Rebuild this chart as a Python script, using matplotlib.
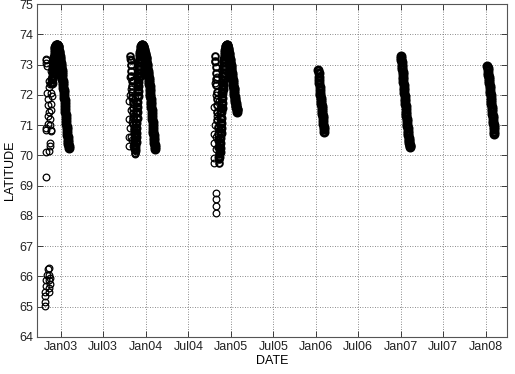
import pandas as pd
import matplotlib
matplotlib.use("Agg")
import matplotlib.pyplot as plt
import matplotlib.dates as mdates

plt.rcParams["font.family"] = ["Liberation Sans", "DejaVu Sans"]

# --------------------------
# Data: daily fixes along the dense tracks (start date + one latitude per day)
# --------------------------
arc_2003_start = "2002-11-24"
arc_2003_lat = [72.40, 72.52, 72.63, 72.74, 72.84, 72.93, 73.02,
                73.10, 73.18, 73.26, 73.34, 73.42, 73.50, 73.54, 73.57, 73.60, 73.62,
                73.63, 73.64, 73.64, 73.65, 73.65, 73.64, 73.62, 73.60, 73.57, 73.54,
                73.50, 73.46, 73.42, 73.38, 73.33, 73.28, 73.23, 73.18, 73.12, 73.06, 73.00,
                72.94, 72.88, 72.82, 72.75, 72.68, 72.61, 72.54, 72.47, 72.40, 72.32,
                72.24, 72.16, 72.08, 72.00, 71.91, 71.82, 71.73, 71.64, 71.55, 71.45,
                71.35, 71.25, 71.15, 71.05, 70.95, 70.86, 70.77, 70.68, 70.60, 70.52, 70.44,
                70.37, 70.30, 70.25]

col_2003_start = "2003-10-26"
col_2003_lat = [73.30, 73.15, 72.98, 72.80, 72.62, 72.45, 72.28, 72.10, 71.92, 71.75,
                71.58, 71.40, 71.22, 71.05, 70.88, 70.70, 70.52, 70.35, 70.20, 70.08]

arc_2004_start = "2003-11-15"
arc_2004_lat = [70.20, 70.32, 70.45, 70.60, 70.75, 70.92, 71.08, 71.25, 71.42, 71.60,
                71.78, 71.95, 72.12, 72.28, 72.44, 72.58,
                72.72, 72.85, 72.97, 73.08, 73.18, 73.27, 73.35, 73.42, 73.48, 73.53,
                73.58, 73.62, 73.65,
                73.65, 73.64, 73.63, 73.62, 73.60, 73.58, 73.56,
                73.54, 73.51, 73.48, 73.45, 73.42, 73.39, 73.36, 73.33, 73.30, 73.26, 73.22,
                73.18, 73.13, 73.08, 73.03, 72.98, 72.92, 72.86, 72.80, 72.74, 72.68,
                72.62, 72.56, 72.49, 72.42, 72.35, 72.28, 72.20, 72.12, 72.04, 71.96,
                71.87, 71.78, 71.69, 71.60, 71.50, 71.40, 71.30, 71.20, 71.10, 71.00, 70.91,
                70.82, 70.74, 70.66, 70.58, 70.50, 70.42, 70.34, 70.27, 70.20]

col_2004_start = "2004-10-24"
col_2004_lat = [73.30, 73.12, 72.92, 72.72, 72.52, 72.32, 72.10, 71.88, 71.65, 71.42,
                71.18, 70.95, 70.72, 70.50, 70.28, 70.06, 69.88, 69.76]

arc_2005_start = "2004-11-11"
arc_2005_lat = [69.95, 70.10, 70.25, 70.42, 70.58, 70.75, 70.92, 71.08, 71.25, 71.42,
                71.58, 71.74, 71.90, 72.05, 72.20, 72.34, 72.48, 72.61, 72.74, 72.86,
                72.97, 73.08, 73.18, 73.27, 73.35, 73.42, 73.48, 73.53, 73.57, 73.60,
                73.62, 73.64, 73.65,
                73.64, 73.62, 73.59, 73.56, 73.52, 73.48, 73.44,
                73.39, 73.34, 73.29, 73.24, 73.19, 73.14, 73.09, 73.04, 72.99, 72.94, 72.89,
                72.84, 72.78, 72.72, 72.66, 72.60, 72.54, 72.48, 72.42, 72.36, 72.30,
                72.24, 72.18, 72.12, 72.06, 72.00, 71.94, 71.88, 71.83, 71.78, 71.73,
                71.68, 71.63, 71.59, 71.55, 71.52, 71.49, 71.45]

track_2006_start = "2006-01-11"
track_2006_lat = [72.82, 72.71, 72.60, 72.49, 72.38, 72.27, 72.16, 72.05, 71.98, 71.91,
                  71.84, 71.77, 71.70, 71.64, 71.57, 71.51, 71.44, 71.38, 71.31, 71.22,
                  71.13, 71.04, 70.95, 70.86, 70.76]

track_2007_start = "2006-12-31"
track_2007_lat = [73.28, 73.22, 73.15, 73.08, 73.00, 72.92, 72.84, 72.76, 72.68, 72.60,
                  72.51, 72.42, 72.33, 72.24, 72.15, 72.06, 71.97, 71.88, 71.80, 71.71,
                  71.62, 71.53, 71.45, 71.37, 71.29, 71.21, 71.13, 71.05, 70.97, 70.89,
                  70.81, 70.73, 70.66, 70.59, 70.52, 70.46, 70.40, 70.35, 70.31, 70.27]

track_2008_start = "2008-01-07"
track_2008_lat = [72.95, 72.88, 72.81, 72.74, 72.66, 72.59, 72.52, 72.45, 72.38, 72.30,
                  72.22, 72.14, 72.06, 71.98, 71.90, 71.83, 71.76, 71.69, 71.61, 71.53,
                  71.46, 71.38, 71.30, 71.23, 71.15, 71.08, 71.00, 70.93, 70.86, 70.78,
                  70.70]

# Scattered fixes (date, latitude)
scatter_dates = ["2002-10-28", "2002-10-29", "2002-11-01", "2002-10-30", "2002-11-10",
                 "2002-11-12", "2002-11-20", "2002-11-22", "2002-11-06", "2002-11-08",
                 "2002-11-12", "2002-11-06", "2002-11-14", "2002-11-18", "2002-11-20",
                 "2002-10-28", "2002-10-27", "2002-11-14", "2002-11-16", "2002-11-10",
                 "2002-10-29", "2002-10-28", "2002-11-04", "2002-11-16", "2002-11-18",
                 "2002-11-02", "2002-11-19", "2002-11-21", "2002-11-15", "2002-11-17",
                 "2002-10-24", "2002-10-25", "2002-10-26", "2002-10-26", "2002-10-27",
                 "2002-10-29", "2002-10-31", "2002-11-04", "2002-11-12", "2002-11-12",
                 "2002-11-10", "2002-11-14", "2002-11-12", "2002-11-10", "2002-11-13",
                 "2003-10-20", "2003-10-22", "2003-10-19", "2003-10-24", "2003-10-27",
                 "2003-10-23", "2003-10-25", "2003-10-28", "2003-11-01", "2003-11-03",
                 "2003-11-06", "2003-11-05", "2003-11-09", "2003-11-11", "2003-11-13",
                 "2003-11-16", "2003-11-18", "2003-10-21", "2003-10-30", "2003-10-26",
                 "2003-11-20", "2003-11-08", "2003-10-29", "2003-11-02",
                 "2004-10-20", "2004-10-22", "2004-10-19", "2004-10-21", "2004-10-18",
                 "2004-10-20", "2004-10-26", "2004-10-29", "2004-11-02", "2004-11-05",
                 "2004-11-08", "2004-11-12", "2004-11-15", "2004-11-17", "2004-10-24",
                 "2004-10-27", "2004-11-03", "2004-10-23", "2004-11-10", "2004-11-19",
                 "2004-10-28", "2004-10-28", "2004-10-28", "2004-10-28",
                 "2005-01-27"]
scatter_lat = [73.20, 73.05, 72.95, 73.15, 72.45,
               72.25, 72.05, 71.95, 71.85, 71.65,
               71.45, 71.30, 71.20, 70.80, 70.85,
               70.90, 70.85, 70.40, 70.32, 70.15,
               70.12, 69.28, 71.05, 72.35, 71.70,
               72.05, 71.50, 72.60, 71.00, 72.80,
               65.03, 65.17, 65.34, 65.50, 65.69,
               65.89, 66.06, 66.24, 66.28, 66.06,
               65.89, 65.76, 65.62, 65.50, 65.95,
               71.80, 71.20, 70.60, 70.90, 71.50,
               72.00, 72.60, 72.20, 71.10, 70.50,
               71.70, 70.30, 71.30, 70.80, 71.90,
               70.05, 70.15, 70.30, 73.00, 73.20,
               71.40, 72.50, 70.60, 71.90,
               71.60, 71.00, 70.70, 70.40, 69.90,
               69.75, 70.20, 70.60, 71.30, 70.90,
               71.80, 71.40, 70.80, 71.10, 72.40,
               72.00, 72.60, 73.10, 70.40, 71.60,
               68.77, 68.55, 68.33, 68.09,
               71.42]

dense_tracks = [(arc_2003_start, arc_2003_lat), (arc_2004_start, arc_2004_lat),
                (arc_2005_start, arc_2005_lat), (track_2006_start, track_2006_lat),
                (track_2007_start, track_2007_lat), (track_2008_start, track_2008_lat)]
loose_tracks = [(col_2003_start, col_2003_lat), (col_2004_start, col_2004_lat)]

# --------------------------
# Plot
# --------------------------
fig = plt.figure(figsize=(5.15, 3.74), dpi=100)
ax = fig.add_axes([0.072, 0.099, 0.913, 0.890])

marker_kw = dict(linestyle="none", marker="o", markersize=4.8,
                 markerfacecolor="none", markeredgecolor="black", markeredgewidth=0.9)

# overlapping fixes along a dense track read as a solid band
for start, lat in dense_tracks:
    days = pd.date_range(start, periods=len(lat), freq="D")
    ax.plot(days, lat, **{**marker_kw, "markersize": 5.0, "markeredgewidth": 2.2})

for start, lat in loose_tracks:
    days = pd.date_range(start, periods=len(lat), freq="D")
    ax.plot(days, lat, **{**marker_kw, "markeredgewidth": 1.4})

ax.plot(pd.to_datetime(scatter_dates), scatter_lat, **marker_kw)

ax.set_xlim(pd.Timestamp("2002-09-20"), pd.Timestamp("2008-04-01"))
ax.set_ylim(64, 75)
ax.set_yticks(range(64, 76))
ax.xaxis.set_major_locator(mdates.MonthLocator(bymonth=[1, 7]))
ax.xaxis.set_major_formatter(mdates.DateFormatter("%b%y"))

ax.grid(True, linestyle=(0, (1, 2)), color="#666666", linewidth=0.6)
ax.tick_params(direction="in", length=4, width=0.6, top=True, right=True,
               labelsize=9, colors="#222222", pad=3)
for s in ax.spines.values():
    s.set_color("#555555")
    s.set_linewidth(0.8)

ax.set_xlabel("DATE", fontsize=9, labelpad=1)
ax.set_ylabel("LATITUDE", fontsize=9, labelpad=2)

fig.savefig("out.png", dpi=100)
